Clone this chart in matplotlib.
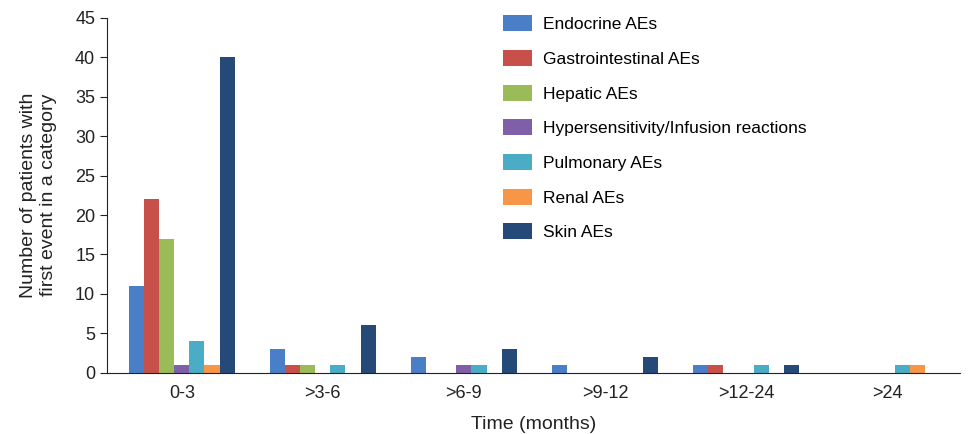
import numpy as np
import matplotlib
matplotlib.use("Agg")
import matplotlib.pyplot as plt

plt.rcParams["font.family"] = ["Liberation Sans", "DejaVu Sans"]

periods = ["0-3", ">3-6", ">6-9", ">9-12", ">12-24", ">24"]
categories = ["Endocrine AEs", "Gastrointestinal AEs", "Hepatic AEs",
              "Hypersensitivity/Infusion reactions", "Pulmonary AEs",
              "Renal AEs", "Skin AEs"]
endocrine = [11, 3, 2, 1, 1, 0]
gastro = [22, 1, 0, 0, 1, 0]
hepatic = [17, 1, 0, 0, 0, 0]
hypersens = [1, 0, 1, 0, 0, 0]
pulmonary = [4, 1, 1, 0, 1, 1]
renal = [1, 0, 0, 0, 0, 1]
skin = [40, 6, 3, 2, 1, 0]
series = [endocrine, gastro, hepatic, hypersens, pulmonary, renal, skin]
colors = ["#4A7EC7", "#C8504B", "#9BBB59", "#7F5FA8", "#4BACC6",
          "#F79646", "#264A78"]

fig = plt.figure(figsize=(9.73, 4.34), dpi=100)
ax = fig.add_axes([0.11, 0.141, 0.877, 0.818])

x = np.arange(len(periods))
w = 0.107
for i, (vals, c, lab) in enumerate(zip(series, colors, categories)):
    ax.bar(x + (i - 3) * w, vals, width=w, color=c, label=lab)

ax.set_xlim(-0.53, 5.52)
ax.set_ylim(0, 45)
ax.set_yticks(range(0, 46, 5))
ax.set_xticks(x)
ax.set_xticklabels(periods)
ax.tick_params(axis="x", length=0, pad=9, labelsize=13, colors="#222222")
ax.tick_params(axis="y", length=5, labelsize=13, colors="#222222")
for s in ["top", "right"]:
    ax.spines[s].set_visible(False)
ax.spines["left"].set_color("#222222")
ax.spines["bottom"].set_color("#222222")

ax.set_xlabel("Time (months)", fontsize=14, labelpad=10, color="#222222")
ax.set_ylabel("Number of patients with\nfirst event in a category",
              fontsize=14, labelpad=13, color="#222222")

fig.legend(loc="upper left", bbox_to_anchor=(0.508, 0.985), frameon=False,
           fontsize=12.5, handlelength=1.7, handleheight=1.05,
           labelspacing=1.02, handletextpad=0.6, borderpad=0)

fig.savefig("out.png", dpi=100)
